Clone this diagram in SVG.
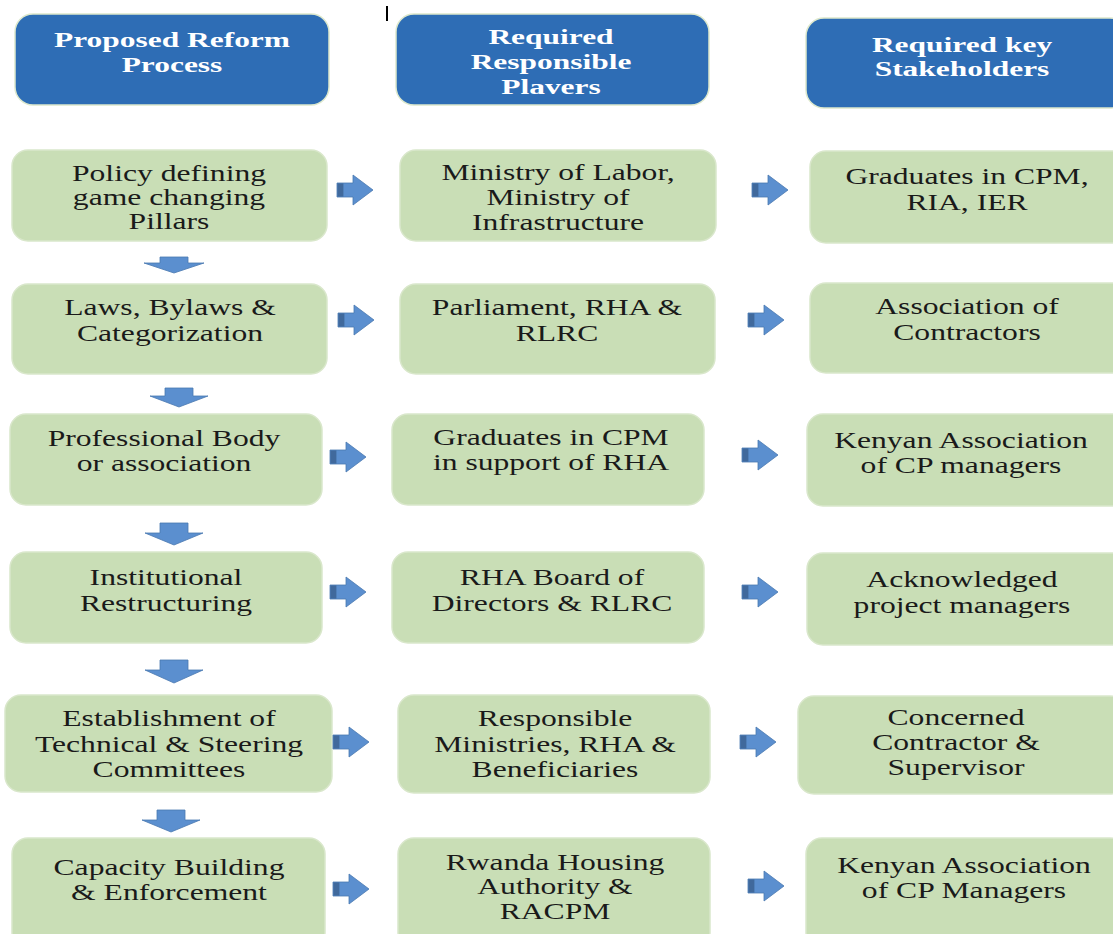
<svg xmlns="http://www.w3.org/2000/svg" width="1113" height="934" viewBox="0 0 1113 934">
  <style>
    .hdr { fill: #2e6db5; stroke: #dde8cc; stroke-width: 1.5; }
    .box { fill: #c9deb6; stroke: #d9e7cb; stroke-width: 1.5; }
    .ht { font-family: "Liberation Serif", "Times New Roman", serif; font-weight: bold; font-size: 22px; fill: #ffffff; text-anchor: middle; }
    .bt { font-family: "Liberation Serif", "Times New Roman", serif; font-size: 23px; fill: #1a1a1a; text-anchor: middle; }
    .arr { fill: #5b8fcf; stroke: #4a78b0; stroke-width: 0.8; }
    .shade { fill: #40699c; }
  </style>
  <defs>
    <!-- block arrow pointing right, origin at shaft left / vertical centre -->
    <g id="rarrow">
      <path class="arr" d="M0,-7 H16 V-15 L36,0 L16,15 V7 H0 Z"/>
      <rect class="shade" x="0.4" y="-6.6" width="6" height="13.2"/>
    </g>
  </defs>

  <rect width="1113" height="934" fill="#ffffff"/>
  <line x1="387" y1="6" x2="387" y2="21" stroke="#000000" stroke-width="2"/>

  <!-- column headers -->
  <g id="hdr-process">
    <rect class="hdr" x="15" y="14" width="314" height="91" rx="18"/>
    <text class="ht" transform="translate(172,47) scale(1.43,1)">Proposed Reform</text>
    <text class="ht" transform="translate(172,72) scale(1.43,1)">Process</text>
  </g>
  <g id="hdr-players">
    <rect class="hdr" x="396" y="14" width="313" height="91" rx="18"/>
    <text class="ht" transform="translate(551,44) scale(1.43,1)">Required</text>
    <text class="ht" transform="translate(551,69) scale(1.43,1)">Responsible</text>
    <text class="ht" transform="translate(551,94) scale(1.43,1)">Plavers</text>
  </g>
  <g id="hdr-stakeholders">
    <rect class="hdr" x="806" y="18" width="322" height="90" rx="18"/>
    <text class="ht" transform="translate(962,52) scale(1.43,1)">Required key</text>
    <text class="ht" transform="translate(962,76) scale(1.43,1)">Stakeholders</text>
  </g>

  <!-- row 1 -->
  <g id="r1-process">
    <rect class="box" x="12" y="150" width="315" height="91" rx="16"/>
    <text class="bt" transform="translate(169,181) scale(1.375,1)">Policy defining</text>
    <text class="bt" transform="translate(169,205) scale(1.375,1)">game changing</text>
    <text class="bt" transform="translate(169,229) scale(1.375,1)">Pillars</text>
  </g>
  <g id="r1-players">
    <rect class="box" x="400" y="150" width="316" height="91" rx="16"/>
    <text class="bt" transform="translate(558,180) scale(1.375,1)">Ministry of Labor,</text>
    <text class="bt" transform="translate(558,205) scale(1.375,1)">Ministry of</text>
    <text class="bt" transform="translate(558,230) scale(1.375,1)">Infrastructure</text>
  </g>
  <g id="r1-stake">
    <rect class="box" x="810" y="151" width="318" height="92" rx="16"/>
    <text class="bt" transform="translate(967,184) scale(1.375,1)">Graduates in CPM,</text>
    <text class="bt" transform="translate(967,210) scale(1.375,1)">RIA, IER</text>
  </g>

  <!-- row 2 -->
  <g id="r2-process">
    <rect class="box" x="12" y="284" width="315" height="90" rx="16"/>
    <text class="bt" transform="translate(170,315) scale(1.375,1)">Laws, Bylaws &amp;</text>
    <text class="bt" transform="translate(170,341) scale(1.375,1)">Categorization</text>
  </g>
  <g id="r2-players">
    <rect class="box" x="400" y="284" width="315" height="90" rx="16"/>
    <text class="bt" transform="translate(557,315) scale(1.375,1)">Parliament, RHA &amp;</text>
    <text class="bt" transform="translate(557,341) scale(1.375,1)">RLRC</text>
  </g>
  <g id="r2-stake">
    <rect class="box" x="810" y="283" width="318" height="90" rx="16"/>
    <text class="bt" transform="translate(967,314) scale(1.375,1)">Association of</text>
    <text class="bt" transform="translate(967,340) scale(1.375,1)">Contractors</text>
  </g>

  <!-- row 3 -->
  <g id="r3-process">
    <rect class="box" x="10" y="414" width="312" height="91" rx="16"/>
    <text class="bt" transform="translate(164,446) scale(1.375,1)">Professional Body</text>
    <text class="bt" transform="translate(164,471) scale(1.375,1)">or association</text>
  </g>
  <g id="r3-players">
    <rect class="box" x="392" y="414" width="312" height="91" rx="16"/>
    <text class="bt" transform="translate(551,445) scale(1.375,1)">Graduates in CPM</text>
    <text class="bt" transform="translate(551,470) scale(1.375,1)">in support of RHA</text>
  </g>
  <g id="r3-stake">
    <rect class="box" x="807" y="414" width="320" height="92" rx="16"/>
    <text class="bt" transform="translate(961,448) scale(1.375,1)">Kenyan Association</text>
    <text class="bt" transform="translate(961,473) scale(1.375,1)">of CP managers</text>
  </g>

  <!-- row 4 -->
  <g id="r4-process">
    <rect class="box" x="10" y="552" width="312" height="91" rx="16"/>
    <text class="bt" transform="translate(166,585) scale(1.375,1)">Institutional</text>
    <text class="bt" transform="translate(166,611) scale(1.375,1)">Restructuring</text>
  </g>
  <g id="r4-players">
    <rect class="box" x="392" y="552" width="312" height="91" rx="16"/>
    <text class="bt" transform="translate(552,585) scale(1.375,1)">RHA Board of</text>
    <text class="bt" transform="translate(552,611) scale(1.375,1)">Directors &amp; RLRC</text>
  </g>
  <g id="r4-stake">
    <rect class="box" x="807" y="553" width="320" height="92" rx="16"/>
    <text class="bt" transform="translate(962,587) scale(1.375,1)">Acknowledged</text>
    <text class="bt" transform="translate(962,613) scale(1.375,1)">project managers</text>
  </g>

  <!-- row 5 -->
  <g id="r5-process">
    <rect class="box" x="5" y="695" width="327" height="97" rx="16"/>
    <text class="bt" transform="translate(169,726) scale(1.375,1)">Establishment of</text>
    <text class="bt" transform="translate(169,752) scale(1.375,1)">Technical &amp; Steering</text>
    <text class="bt" transform="translate(169,777) scale(1.375,1)">Committees</text>
  </g>
  <g id="r5-players">
    <rect class="box" x="398" y="695" width="312" height="98" rx="16"/>
    <text class="bt" transform="translate(555,726) scale(1.375,1)">Responsible</text>
    <text class="bt" transform="translate(555,752) scale(1.375,1)">Ministries, RHA &amp;</text>
    <text class="bt" transform="translate(555,777) scale(1.375,1)">Beneficiaries</text>
  </g>
  <g id="r5-stake">
    <rect class="box" x="798" y="696" width="328" height="98" rx="16"/>
    <text class="bt" transform="translate(956,725) scale(1.375,1)">Concerned</text>
    <text class="bt" transform="translate(956,750) scale(1.375,1)">Contractor &amp;</text>
    <text class="bt" transform="translate(956,775) scale(1.375,1)">Supervisor</text>
  </g>

  <!-- row 6 -->
  <g id="r6-process">
    <rect class="box" x="12" y="838" width="313" height="110" rx="16"/>
    <text class="bt" transform="translate(169,875) scale(1.375,1)">Capacity Building</text>
    <text class="bt" transform="translate(169,900) scale(1.375,1)">&amp; Enforcement</text>
  </g>
  <g id="r6-players">
    <rect class="box" x="398" y="838" width="312" height="110" rx="16"/>
    <text class="bt" transform="translate(555,870) scale(1.375,1)">Rwanda Housing</text>
    <text class="bt" transform="translate(555,894) scale(1.375,1)">Authority &amp;</text>
    <text class="bt" transform="translate(555,919) scale(1.375,1)">RACPM</text>
  </g>
  <g id="r6-stake">
    <rect class="box" x="806" y="838" width="320" height="110" rx="16"/>
    <text class="bt" transform="translate(964,873) scale(1.375,1)">Kenyan Association</text>
    <text class="bt" transform="translate(964,898) scale(1.375,1)">of CP Managers</text>
  </g>

  <!-- connectors: block arrows -->
  <g id="connectors">
    <use href="#rarrow" x="337" y="190"/>
    <use href="#rarrow" x="752" y="190"/>
    <use href="#rarrow" x="338" y="320"/>
    <use href="#rarrow" x="748" y="320"/>
    <use href="#rarrow" x="330" y="457"/>
    <use href="#rarrow" x="742" y="455"/>
    <use href="#rarrow" x="330" y="592"/>
    <use href="#rarrow" x="742" y="592"/>
    <use href="#rarrow" x="333" y="742"/>
    <use href="#rarrow" x="740" y="742"/>
    <use href="#rarrow" x="333" y="889"/>
    <use href="#rarrow" x="748" y="886"/>

    <path class="arr" d="M160,257 H188 V263 H204 L174,273 L144,263 H160 Z"/>
    <path class="arr" d="M165,388 H193 V396 H208 L179,407 L150,396 H165 Z"/>
    <path class="arr" d="M160,523 H188 V533 H203 L174,545 L145,533 H160 Z"/>
    <path class="arr" d="M160,660 H188 V670 H203 L174,683 L145,670 H160 Z"/>
    <path class="arr" d="M157,810 H185 V820 H200 L171,832 L142,820 H157 Z"/>
  </g>
</svg>
